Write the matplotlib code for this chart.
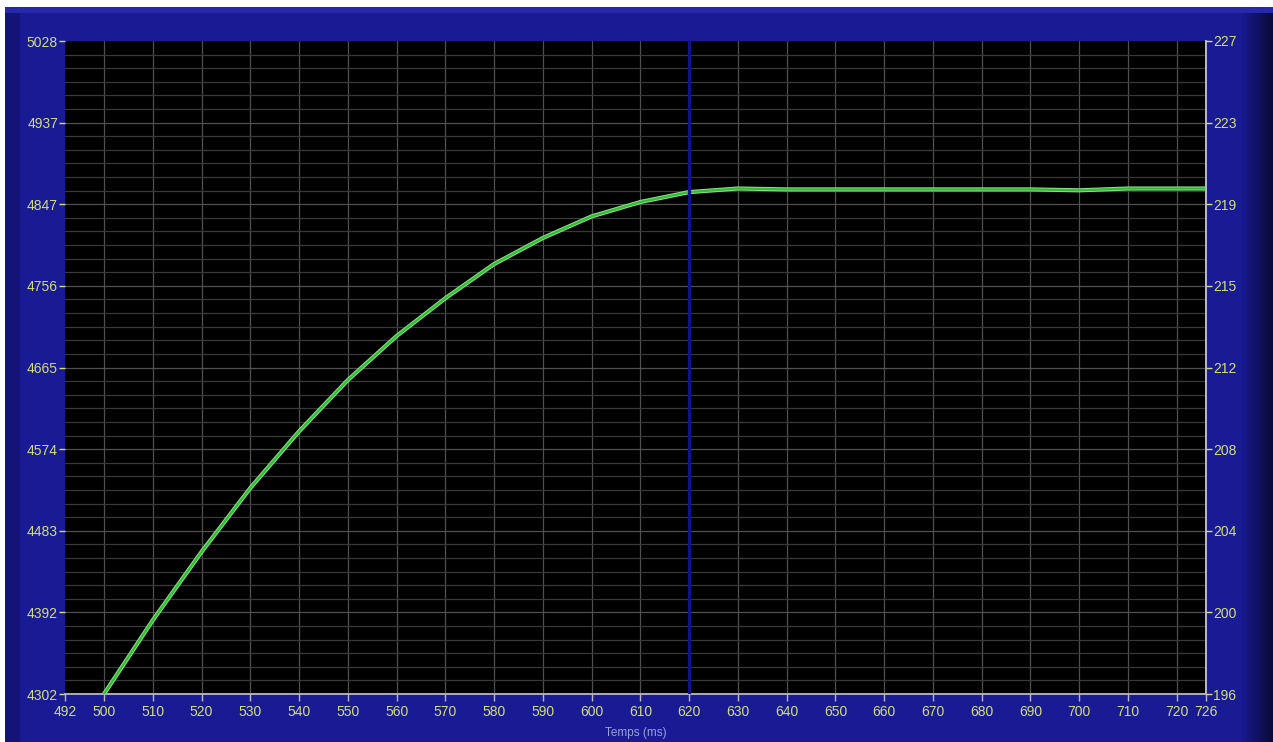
# Courbe de montée - relevé à l'oscilloscope (Temps en ms)
import numpy as np
import matplotlib
matplotlib.use("Agg")
import matplotlib.pyplot as plt
from matplotlib.ticker import AutoMinorLocator, FixedLocator

temps_ms = [500, 510, 520, 530, 540, 550, 560, 570, 580, 590, 600, 610, 620,
            630, 640, 650, 660, 670, 680, 690, 700, 710, 720, 726]
mesure = [4302, 4384, 4460, 4531, 4594, 4651, 4700, 4742, 4780, 4809, 4833, 4849, 4860,
          4864, 4863, 4863, 4863, 4863, 4863, 4863, 4862, 4864, 4864, 4864]

x_ticks = [492, 500, 510, 520, 530, 540, 550, 560, 570, 580, 590, 600, 610, 620,
           630, 640, 650, 660, 670, 680, 690, 700, 710, 720, 726]
y_left_labels = ['4302', '4392', '4483', '4574', '4665', '4756', '4847', '4937', '5028']
y_right_labels = ['196', '200', '204', '208', '212', '215', '219', '223', '227']
curseur_ms = 620

XMIN, XMAX = 492, 726
YMIN, YMAX = 4302, 5028
Y2MIN, Y2MAX = 196, 227

BLEU = '#1a1a95'
JAUNE = '#cfe07c'

fig = plt.figure(figsize=(12.73, 7.42), dpi=100)
fig.patch.set_facecolor(BLEU)

# fond de fenêtre (dégradé bleu + bords)
bg = fig.add_axes([0, 0, 1, 1], zorder=-10)
bg.set_axis_off()
w, h = 1273, 742
img = np.zeros((h, w, 3))
base = np.array([26, 26, 149]) / 255.0
img[:, :] = base
cols = np.arange(w)
fade = np.clip((cols - 1240) / 33.0, 0, 1)
img[:, :, :] *= (1 - 0.65 * fade)[None, :, None]
img[:, 5:20] = np.array([20, 20, 120]) / 255.0
img[7:13, 5:] = np.array([40, 40, 170]) / 255.0
img[:7, :] = 1.0
img[:, :5] = 1.0
bg.imshow(img, aspect='auto', extent=[0, 1, 0, 1], origin='upper')
bg.set_xlim(0, 1)
bg.set_ylim(0, 1)

ax = fig.add_axes([65 / 1273, 48 / 742, 1141 / 1273, 653 / 742])
ax.set_facecolor('black')

ax.set_xlim(XMIN, XMAX)
ax.set_ylim(YMIN, YMAX)

y_ticks = np.linspace(YMIN, YMAX, len(y_left_labels))
ax.xaxis.set_major_locator(FixedLocator(x_ticks))
ax.set_xticklabels([str(t) for t in x_ticks])
ax.set_yticks(y_ticks)
ax.set_yticklabels(y_left_labels)
ax.yaxis.set_minor_locator(AutoMinorLocator(6))

ax.grid(which='major', axis='both', color='#505050', lw=0.9)
ax.grid(which='minor', axis='y', color='#383838', lw=0.9)
ax.set_axisbelow(True)
# pas de quadrillage sur les bords du cadre
gx = ax.xaxis.get_gridlines()
gx[0].set_visible(False)
gx[-1].set_visible(False)
ax.yaxis.get_gridlines()[-1].set_visible(False)

# courbe
ax.plot(temps_ms, mesure, color='#8fe08f', lw=3.0, solid_capstyle='round', zorder=3)
ax.plot(temps_ms, mesure, color='#2fbf2f', lw=1.6, zorder=4)

# curseur vertical
ax.axvline(curseur_ms, color='#12128c', lw=2.3, zorder=5)

for s in ['left', 'top']:
    ax.spines[s].set_visible(False)
for s in ['bottom', 'right']:
    ax.spines[s].set_color('#b8b8c8')
    ax.spines[s].set_linewidth(1.3)

ax.tick_params(axis='x', colors='#b8b8c8', length=5, width=1, direction='out',
               labelcolor=JAUNE, labelsize=10, pad=3)
ax.tick_params(axis='y', which='major', colors=JAUNE, length=4, width=1,
               labelsize=10, pad=1)
ax.tick_params(axis='y', which='minor', length=0)
for lab in ax.get_xticklabels() + ax.get_yticklabels():
    lab.set_family('Liberation Sans')

ax.set_xlabel('Temps (ms)', color='#9aa0d8', fontsize=8.5, family='Liberation Sans',
              labelpad=6)

# axe de droite
ax2 = ax.twinx()
ax2.set_ylim(Y2MIN, Y2MAX)
ax2.set_yticks(np.linspace(Y2MIN, Y2MAX, len(y_right_labels)))
ax2.set_yticklabels(y_right_labels)
ax2.tick_params(axis='y', colors=JAUNE, length=4, width=1, labelsize=10, pad=1)
for lab in ax2.get_yticklabels():
    lab.set_family('Liberation Sans')
for s in ['left', 'top', 'bottom']:
    ax2.spines[s].set_visible(False)
ax2.spines['right'].set_color('#b8b8c8')
ax2.spines['right'].set_linewidth(1.3)

fig.savefig('out.png', dpi=100, facecolor=fig.get_facecolor())
